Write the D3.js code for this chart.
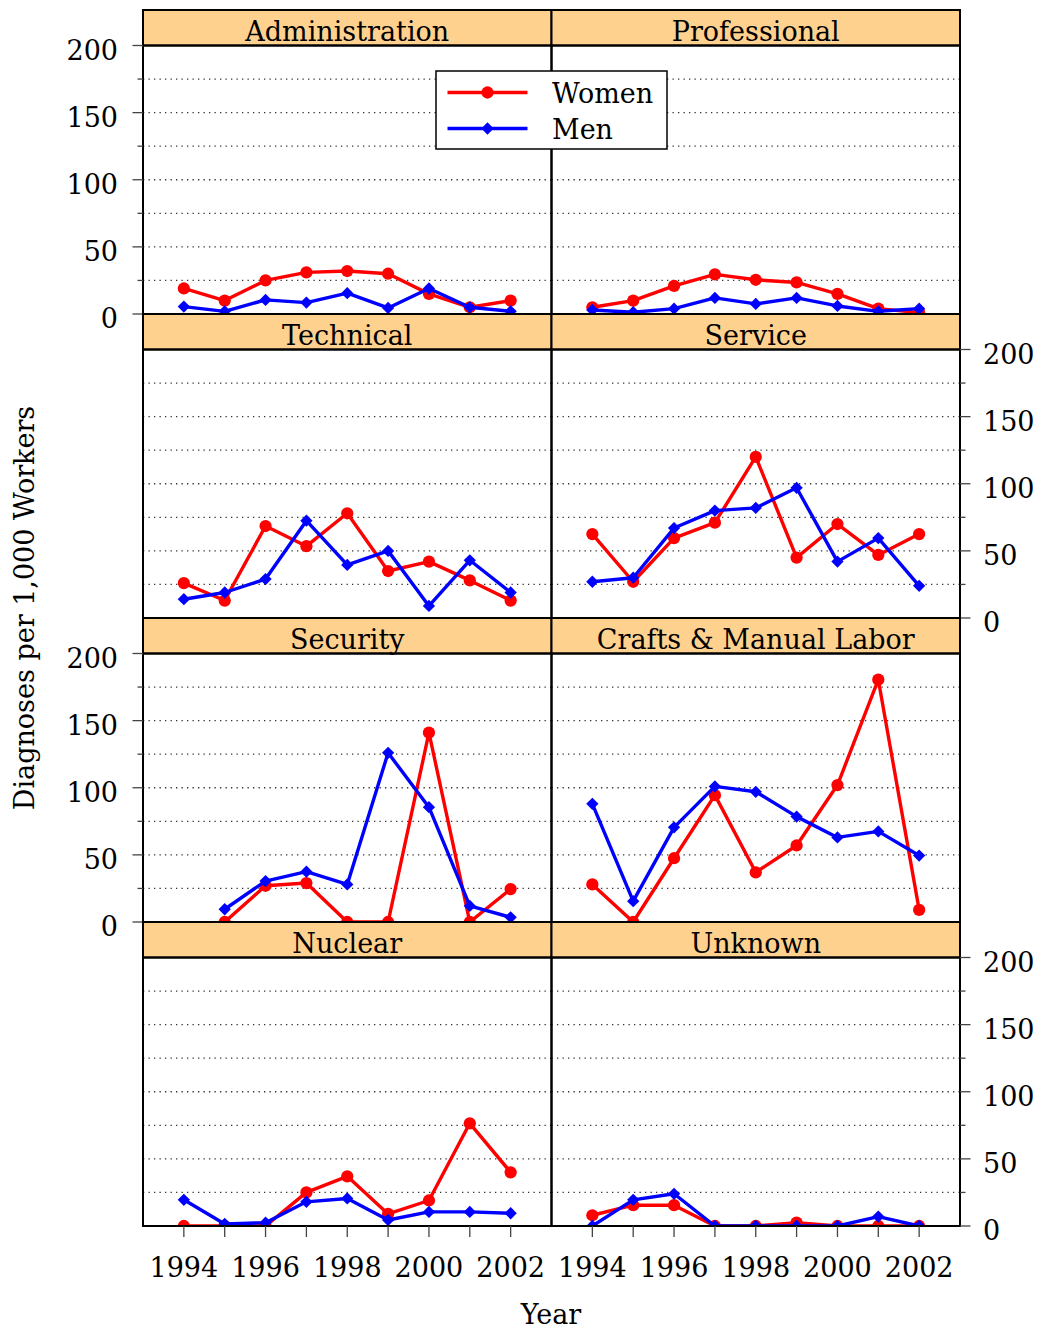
<!DOCTYPE html>
<html>
<head>
<meta charset="utf-8">
<script src="https://cdn.jsdelivr.net/npm/d3@7"></script>
<style>
  html, body { margin: 0; padding: 0; background: #fff; }
  svg { display: block; font-family: "DejaVu Serif", "Liberation Serif", serif; }
</style>
</head>
<body>
<svg id="chart" width="1041" height="1330"></svg>
<script>
// Occupational diagnoses per 1,000 workers, by job category, 1994-2002
const years = [1994, 1995, 1996, 1997, 1998, 1999, 2000, 2001, 2002];
const categories = ["Administration", "Professional", "Technical", "Service",
                    "Security", "Crafts & Manual Labor", "Nuclear", "Unknown"];
const seriesNames = ["Women", "Men"];
const seriesColors = ["#ff0000", "#0000ff"];

const women = {
  "Administration":       [19, 10, 25, 31, 32, 30, 15, 5, 10],
  "Professional":         [5, 10, 21, 29.5, 25.5, 23.5, 15, 4, 1],
  "Technical":            [26, 13, 68.5, 53.5, 78, 35, 42, 28, 13],
  "Service":              [62.5, 27, 59.5, 71, 120, 45, 70, 47, 62.5],
  "Security":             [null, 0, 27, 29, 0, 0, 141, 0, 24.5],
  "Crafts & Manual Labor":[28, 0, 47.5, 94.5, 37, 57, 102, 180.5, 9],
  "Nuclear":              [0, 0, 0, 25, 37, 9, 19, 76.5, 40],
  "Unknown":              [8, 15.5, 15.5, 0, 0, 2.5, 0, 0, 0]
};
const men = {
  "Administration":       [5.5, 2, 10.5, 8.5, 15.5, 4.5, 19, 5, 2],
  "Professional":         [3, 1.3, 4, 12, 7.5, 12, 6, 2, 4],
  "Technical":            [14, 19, 29, 72.5, 39.5, 50, 9, 43, 19],
  "Service":              [27, 30, 67, 80, 82, 97, 42, 59.5, 24],
  "Security":             [null, 9.5, 30.5, 37.5, 28, 126, 85.5, 12, 3.5],
  "Crafts & Manual Labor":[88, 15.5, 70.5, 101, 97, 78.5, 63, 67.5, 49.5],
  "Nuclear":              [19.5, 1.5, 2.5, 18, 20.5, 4.5, 10.5, 10.5, 9.5],
  "Unknown":              [0, 19.5, 24, 0, 0, 0, 0, 7, 0]
};
const yTickValues = [0, 50, 100, 150, 200];
const yMinorTicks = [25, 75, 125, 175];
const gridValues = [25, 50, 75, 100, 125, 150, 175];
const xLabelYears = [1994, 1996, 1998, 2000, 2002];

// layout
const left = 143, panelW = 408.5;
const top0 = 10, stripH = 35.5, panelH = 268.5, rowStep = 304;
const nCols = 2, nRows = 4;
const fontSize = 27;

const svg = d3.select("#chart");

const x = d3.scaleLinear().domain([1993, 2003]).range([0, panelW]);
const y = d3.scaleLinear().domain([0, 200]).range([panelH, 0]);

const seriesData = [women, men];
const symbolFor = s => d3.symbol()
  .type(s === 0 ? d3.symbolCircle : d3.symbolDiamond2)
  .size(s === 0 ? 118 : 96);

categories.forEach((cat, i) => {
  const col = i % nCols, row = Math.floor(i / nCols);
  const px = left + col * panelW;
  const stripTop = top0 + row * rowStep;
  const py = stripTop + stripH;

  // strip
  svg.append("rect")
    .attr("x", px).attr("y", stripTop)
    .attr("width", panelW).attr("height", stripH)
    .attr("fill", "#ffd18f").attr("stroke", "#000").attr("stroke-width", 2);
  svg.append("text")
    .attr("x", px + panelW / 2).attr("y", stripTop + stripH - 5)
    .attr("text-anchor", "middle").attr("font-size", fontSize).attr("fill", "#000")
    .text(cat);

  const g = svg.append("g").attr("transform", `translate(${px},${py})`);

  // dotted reference lines
  g.selectAll("line.grid").data(gridValues).join("line")
    .attr("class", "grid")
    .attr("x1", 0).attr("x2", panelW)
    .attr("y1", d => y(d)).attr("y2", d => y(d))
    .attr("stroke", "#333").attr("stroke-width", 1.3)
    .attr("stroke-dasharray", "1.3,4.2");

  const clip = "clip" + i;
  g.append("clipPath").attr("id", clip).append("rect")
    .attr("x", 0).attr("y", -8).attr("width", panelW).attr("height", panelH + 8);

  const plot = g.append("g").attr("clip-path", `url(#${clip})`);

  seriesData.forEach((src, s) => {
    const pts = years.map((yr, k) => ({ yr, v: src[cat][k] })).filter(d => d.v !== null);
    const line = d3.line().x(d => x(d.yr)).y(d => y(d.v));
    plot.append("path").datum(pts)
      .attr("d", line).attr("fill", "none")
      .attr("stroke", seriesColors[s]).attr("stroke-width", 3.4)
      .attr("stroke-linejoin", "round");
    plot.selectAll("path.pt" + s).data(pts).join("path")
      .attr("class", "pt" + s)
      .attr("transform", d => `translate(${x(d.yr)},${y(d.v)})`)
      .attr("d", symbolFor(s)).attr("fill", seriesColors[s]);
  });

  // panel border
  g.append("rect").attr("width", panelW).attr("height", panelH)
    .attr("fill", "none").attr("stroke", "#000").attr("stroke-width", 2);

  // y axis: left on rows 1 & 3, right on rows 2 & 4
  const leftSide = row % 2 === 0;
  if ((leftSide && col === 0) || (!leftSide && col === nCols - 1)) {
    const ax = leftSide ? 0 : panelW;
    const dir = leftSide ? -1 : 1;
    const ag = svg.append("g").attr("transform", `translate(${px + ax},${py})`);
    ag.append("line").attr("x1", 0).attr("x2", 0).attr("y1", -stripH).attr("y2", panelH)
      .attr("stroke", "#000").attr("stroke-width", 2);
    ag.selectAll("line.maj").data(yTickValues).join("line")
      .attr("class", "maj")
      .attr("x1", 0).attr("x2", dir * 10.5)
      .attr("y1", d => y(d)).attr("y2", d => y(d))
      .attr("stroke", "#444").attr("stroke-width", 1.3);
    ag.selectAll("line.min").data(yMinorTicks).join("line")
      .attr("class", "min")
      .attr("x1", 0).attr("x2", dir * 5.5)
      .attr("y1", d => y(d)).attr("y2", d => y(d))
      .attr("stroke", "#444").attr("stroke-width", 1.3);
    ag.selectAll("text").data(yTickValues).join("text")
      .attr("x", dir * (leftSide ? 25 : 23))
      .attr("y", d => y(d) + 14)
      .attr("text-anchor", leftSide ? "end" : "start")
      .attr("font-size", fontSize).attr("fill", "#000")
      .text(d => d);
  }

  // x axis on bottom row
  if (row === nRows - 1) {
    const xg = svg.append("g").attr("transform", `translate(${px},${py + panelH})`);
    xg.selectAll("line").data(years).join("line")
      .attr("x1", d => x(d)).attr("x2", d => x(d))
      .attr("y1", 0).attr("y2", 11)
      .attr("stroke", "#444").attr("stroke-width", 1.3);
    xg.selectAll("text").data(xLabelYears).join("text")
      .attr("x", d => x(d)).attr("y", 51)
      .attr("text-anchor", "middle").attr("font-size", fontSize).attr("fill", "#000")
      .text(d => d);
  }
});

// legend
const lg = svg.append("g").attr("transform", "translate(436,71)");
lg.append("rect").attr("width", 231).attr("height", 78)
  .attr("fill", "#fff").attr("stroke", "#000").attr("stroke-width", 1.5);
seriesNames.forEach((name, s) => {
  const ly = 21.5 + s * 36;
  lg.append("line").attr("x1", 11.5).attr("x2", 91.5).attr("y1", ly).attr("y2", ly)
    .attr("stroke", seriesColors[s]).attr("stroke-width", 3.4);
  lg.append("path").attr("transform", `translate(51.5,${ly})`)
    .attr("d", symbolFor(s))
    .attr("fill", seriesColors[s]);
  lg.append("text").attr("x", 116).attr("y", ly + 10)
    .attr("font-size", fontSize).attr("fill", "#000").text(name);
});

// axis titles
svg.append("text")
  .attr("transform", "translate(34,608) rotate(-90)")
  .attr("text-anchor", "middle").attr("font-size", fontSize).attr("fill", "#000")
  .text("Diagnoses per 1,000 Workers");
svg.append("text")
  .attr("x", 551).attr("y", 1324)
  .attr("text-anchor", "middle").attr("font-size", fontSize).attr("fill", "#000")
  .text("Year");
</script>
</body>
</html>
